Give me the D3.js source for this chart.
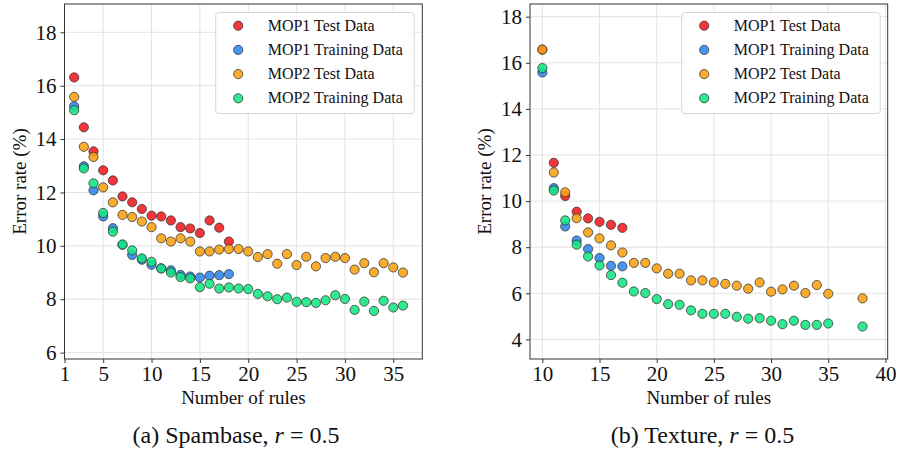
<!DOCTYPE html>
<html>
<head>
<meta charset="utf-8">
<script src="https://cdn.jsdelivr.net/npm/d3@7"></script>
<style>
  body { margin: 0; background: #fff; }
  svg { display: block; }
  svg text { font-family: 'Liberation Serif', 'Times New Roman', Tinos, 'DejaVu Serif', serif; }
</style>
</head>
<body>
<svg id="chart" width="898" height="452"></svg>
<script>
// ---------- DATA ----------
const seriesNames = ["MOP1 Test Data", "MOP1 Training Data", "MOP2 Test Data", "MOP2 Training Data"];
const seriesColors = ["#f01820", "#2d86ee", "#f8a010", "#14e682"];

// Panel (a) Spambase
const spamRulesMOP1 = [2,3,4,5,6,7,8,9,10,11,12,13,14,15,16,17,18];
const spamMOP1Test  = [16.31,14.44,13.54,12.83,12.45,11.85,11.63,11.38,11.13,11.10,10.95,10.70,10.65,10.48,10.95,10.68,10.16];
const spamMOP1Train = [15.23,12.98,12.08,11.10,10.66,10.04,9.66,9.48,9.29,9.16,9.08,8.91,8.85,8.81,8.88,8.90,8.94];
const spamRulesMOP2 = [2,3,4,5,6,7,8,9,10,11,12,13,14,15,16,17,18,19,20,21,22,23,24,25,26,27,28,29,30,31,32,33,34,35,36];
const spamMOP2Test  = [15.58,13.71,13.33,12.19,11.63,11.16,11.08,10.91,10.70,10.28,10.16,10.28,10.16,9.79,9.79,9.86,9.88,9.88,9.79,9.58,9.69,9.33,9.69,9.28,9.59,9.23,9.54,9.59,9.54,9.11,9.35,9.01,9.35,9.19,9.00];
const spamMOP2Train = [15.08,12.90,12.34,11.23,10.53,10.05,9.83,9.53,9.40,9.15,9.00,8.83,8.78,8.45,8.58,8.40,8.44,8.40,8.38,8.20,8.11,8.00,8.06,7.90,7.89,7.86,7.96,8.15,8.01,7.60,7.91,7.56,7.94,7.69,7.76];

// Panel (b) Texture
const texRulesMOP1 = [10,11,12,13,14,15,16,17];
const texMOP1Test  = [16.57,11.66,10.22,9.54,9.25,9.10,8.97,8.84];
const texMOP1Train = [15.58,10.56,8.90,8.29,7.92,7.53,7.19,7.17];
const texRulesMOP2 = [10,11,12,13,14,15,16,17,18,19,20,21,22,23,24,25,26,27,28,29,30,31,32,33,34,35,38];
const texMOP2Test  = [16.57,11.24,10.38,9.26,8.64,8.38,8.08,7.77,7.32,7.32,7.08,6.85,6.85,6.56,6.56,6.47,6.41,6.33,6.20,6.47,6.07,6.17,6.33,6.01,6.36,5.98,5.78];
const texMOP2Train = [15.77,10.46,9.16,8.11,7.60,7.21,6.79,6.46,6.08,6.01,5.75,5.53,5.50,5.26,5.11,5.11,5.11,4.98,4.90,4.92,4.81,4.66,4.81,4.63,4.63,4.69,4.56];

const spamXTicks = [1,5,10,15,20,25,30,35];
const spamYTicks = [6,8,10,12,14,16,18];
const texXTicks = [10,15,20,25,30,35,40];
const texYTicks = [4,6,8,10,12,14,16,18];

const captionA = "(a) Spambase, ";
const captionB = "(b) Texture, ";

// ---------- DRAW ----------
const svg = d3.select("#chart");

function panel(cfg) {
  const g = svg.append("g");
  const x = d3.scaleLinear().domain(cfg.xDomain).range([cfg.left, cfg.right]);
  const y = d3.scaleLinear().domain(cfg.yDomain).range([cfg.bottom, cfg.top]);

  // grid
  g.append("g").selectAll("line").data(cfg.xTicks).join("line")
    .attr("x1", d => x(d)).attr("x2", d => x(d))
    .attr("y1", cfg.top).attr("y2", cfg.bottom)
    .attr("stroke", "#dcdcdc").attr("stroke-width", 0.8);
  g.append("g").selectAll("line").data(cfg.yTicks).join("line")
    .attr("y1", d => y(d)).attr("y2", d => y(d))
    .attr("x1", cfg.left).attr("x2", cfg.right)
    .attr("stroke", "#dcdcdc").attr("stroke-width", 0.8);

  // frame
  g.append("rect").attr("x", cfg.left).attr("y", cfg.top)
    .attr("width", cfg.right - cfg.left).attr("height", cfg.bottom - cfg.top)
    .attr("fill", "none").attr("stroke", "#333").attr("stroke-width", 1);

  // axes
  const xAxis = d3.axisBottom(x).tickValues(cfg.xTicks).tickSize(4).tickPadding(3).tickFormat(d3.format("d"));
  const yAxis = d3.axisLeft(y).tickValues(cfg.yTicks).tickSize(4).tickPadding(4).tickFormat(d3.format("d"));
  const gx = g.append("g").attr("transform", `translate(0,${cfg.bottom})`).call(xAxis);
  const gy = g.append("g").attr("transform", `translate(${cfg.left},0)`).call(yAxis);
  [gx, gy].forEach(a => {
    a.attr("font-family", null).attr("font-size", null);
    a.select(".domain").remove();
    a.selectAll(".tick line").attr("stroke", "#333");
    a.selectAll(".tick text").attr("font-size", 21).attr("fill", "#111");
  });

  // points
  cfg.series.forEach((s, i) => {
    g.append("g").selectAll("circle").data(s.xs.map((v, j) => [v, s.ys[j]])).join("circle")
      .attr("cx", d => x(d[0])).attr("cy", d => y(d[1])).attr("r", 4.6)
      .attr("fill", seriesColors[i]).attr("fill-opacity", 0.88)
      .attr("stroke", "#333").attr("stroke-opacity", 0.85).attr("stroke-width", 0.9);
  });

  // axis labels
  g.append("text").attr("x", (cfg.left + cfg.right) / 2).attr("y", 404)
    .attr("text-anchor", "middle").attr("font-size", 19).attr("fill", "#111").text("Number of rules");
  g.append("text").attr("transform", `translate(${cfg.left - 39},${(cfg.top + cfg.bottom) / 2}) rotate(-90)`)
    .attr("text-anchor", "middle").attr("font-size", 19).attr("fill", "#111").text("Error rate (%)");

  // caption
  const cap = g.append("text").attr("x", cfg.capX).attr("y", 443)
    .attr("text-anchor", "middle").attr("font-size", 24).attr("fill", "#111");
  cap.append("tspan").text(cfg.caption);
  cap.append("tspan").attr("font-style", "italic").text("r");
  cap.append("tspan").text(" = 0.5");

  // legend
  const lg = g.append("g");
  lg.append("rect").attr("x", cfg.legX).attr("y", 12.5)
    .attr("width", 198.5).attr("height", 101).attr("rx", 3)
    .attr("fill", "#fff").attr("fill-opacity", 0.85)
    .attr("stroke", "#d5d5d5").attr("stroke-width", 1);
  seriesNames.forEach((name, i) => {
    const yy = 25.7 + i * 24.2;
    lg.append("circle").attr("cx", cfg.legX + 22.5).attr("cy", yy).attr("r", 4.6)
      .attr("fill", seriesColors[i]).attr("fill-opacity", 0.88)
      .attr("stroke", "#333").attr("stroke-opacity", 0.85).attr("stroke-width", 0.9);
    lg.append("text").attr("x", cfg.legX + 52).attr("y", yy + 5)
      .attr("font-size", 16).attr("fill", "#111").text(name);
  });
}

panel({
  left: 64.5, right: 422.3, top: 4, bottom: 359,
  xDomain: [1, 38], yDomain: [5.76, 19.06],
  xTicks: spamXTicks, yTicks: spamYTicks,
  series: [
    {xs: spamRulesMOP1, ys: spamMOP1Test},
    {xs: spamRulesMOP1, ys: spamMOP1Train},
    {xs: spamRulesMOP2, ys: spamMOP2Test},
    {xs: spamRulesMOP2, ys: spamMOP2Train}
  ],
  caption: captionA, capX: 236, legX: 215.7
});

panel({
  left: 530, right: 887.7, top: 4, bottom: 359,
  xDomain: [8.92, 40.2], yDomain: [3.15, 18.55],
  xTicks: texXTicks, yTicks: texYTicks,
  series: [
    {xs: texRulesMOP1, ys: texMOP1Test},
    {xs: texRulesMOP1, ys: texMOP1Train},
    {xs: texRulesMOP2, ys: texMOP2Test},
    {xs: texRulesMOP2, ys: texMOP2Train}
  ],
  caption: captionB, capX: 702.5, legX: 681.7
});
</script>
</body>
</html>
